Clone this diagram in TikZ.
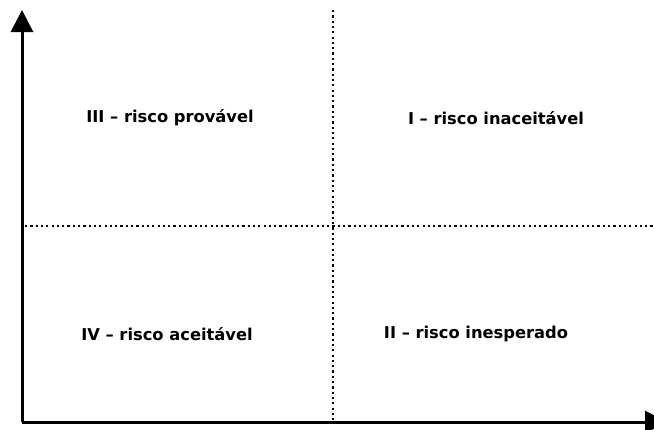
\documentclass[tikz,border=0pt]{standalone}
\usepackage{fontspec}
\setsansfont{DejaVu Sans}
\usetikzlibrary{arrows.meta}
\tikzset{%
  >={Triangle[width=22pt,length=22pt]},
  % Specifications for style of lines and labels:
        axis/.style = {line width=3pt, ->},
     divider/.style = {line width=2.2pt, dash pattern=on 2.2pt off 3.1pt},
    quadrant/.style = {font=\sffamily\bfseries\fontsize{16.3}{18}\selectfont},
}
\begin{document}
\begin{tikzpicture}[x=1pt, y=-1pt]
  \useasboundingbox (0,0) rectangle (654,429);
  % Specification of axis ends
  \coordinate (origin) at (22,422);
  \coordinate (ytip)   at (22,10);
  \coordinate (xtip)   at (667,422);
  \coordinate (vtop)   at (333,10);
  \coordinate (vbot)   at (333,420);
  \coordinate (hleft)  at (25,226);
  \coordinate (hright) at (654,226);
  % Specification of quadrant labels
  \node (q3) [quadrant] at (170,118) {III – risco provável};
  \node (q1) [quadrant] at (496,118) {I – risco inaceitável};
  \node (q4) [quadrant] at (167,334) {IV – risco aceitável};
  \node (q2) [quadrant] at (476,334) {II – risco inesperado};
  % Dividers and axes
  \draw[divider] (vtop) -- (vbot);
  \draw[divider] (hleft) -- (hright);
  \draw[axis]    (origin) -- (ytip);
  \draw[axis]    (origin) -- (xtip);
\end{tikzpicture}
\end{document}
